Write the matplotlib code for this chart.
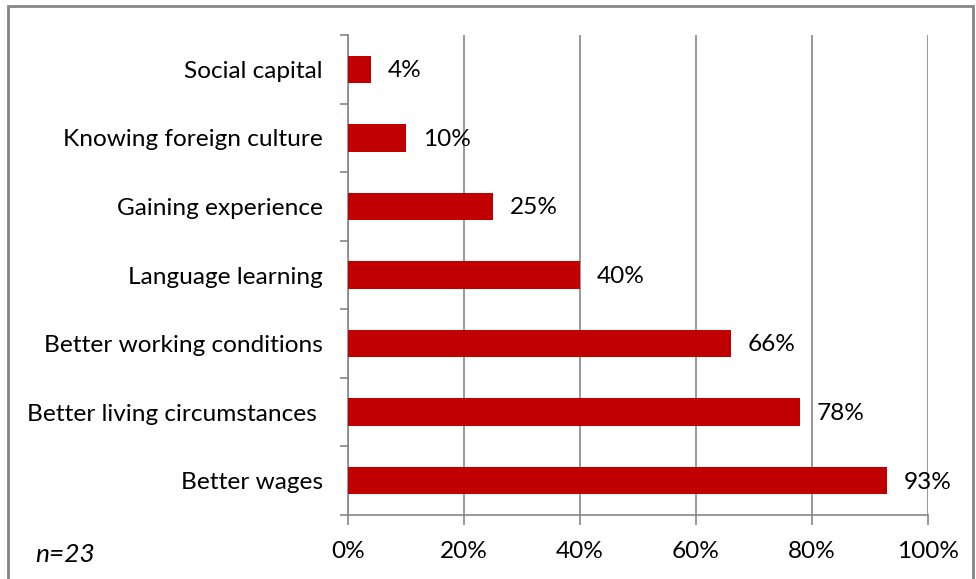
#!/usr/bin/env python3
"""Horizontal bar chart: motivations for working abroad."""

import matplotlib.pyplot as plt
import numpy as np
from matplotlib.patches import Rectangle
from matplotlib.ticker import FixedLocator, PercentFormatter

CATEGORIES = [
    "Better wages",
    "Better living circumstances ",
    "Better working conditions",
    "Language learning",
    "Gaining experience",
    "Knowing foreign culture",
    "Social capital",
]
VALUES = [93, 78, 66, 40, 25, 10, 4]
X_TICKS = [0, 20, 40, 60, 80, 100]
NOTE = "n=23"

BAR_COLOR = "#C00000"
AXIS_COLOR = "#868686"

plt.rcParams.update({"font.family": ["Lato", "DejaVu Sans"], "font.size": 17.6})

fig = plt.figure(figsize=(9.76, 5.79), dpi=100)
fig.patch.set_facecolor("white")
W, H = 976, 579
ax = fig.add_axes([348 / W, 1 - 515 / H, (928 - 348) / W, (515 - 35) / H])

y = np.arange(len(CATEGORIES))
ax.barh(y, VALUES, height=0.4, color=BAR_COLOR, zorder=3)
for yi, v in zip(y, VALUES):
    ax.annotate(f"{v}%", (v, yi), xytext=(12, -1), textcoords="offset points",
                ha="left", va="center", fontsize=17.6)

ax.set_xlim(0, 100)
ax.set_ylim(-0.5, len(CATEGORIES) - 0.5)
ax.set_xticks(X_TICKS)
ax.xaxis.set_major_formatter(PercentFormatter(decimals=0))
ax.set_yticks(y)
ax.set_yticklabels(CATEGORIES)
ax.yaxis.set_minor_locator(FixedLocator(np.arange(-0.5, len(CATEGORIES), 1.0)))
ax.tick_params(axis="y", which="major", length=0, pad=18)
ax.tick_params(axis="y", which="minor", length=6, color=AXIS_COLOR, width=1.2)
ax.tick_params(axis="x", length=7, color=AXIS_COLOR, width=1.2, pad=12)

ax.grid(axis="x", color=AXIS_COLOR, linewidth=1.2, zorder=0)
for side in ("top", "right"):
    ax.spines[side].set_visible(False)
for side in ("left", "bottom"):
    ax.spines[side].set_color(AXIS_COLOR)
    ax.spines[side].set_linewidth(1.2)

fig.text(35 / W, 1 - 555 / H, NOTE, style="italic", fontsize=19, va="center", ha="left")

fig.patches.append(Rectangle((8 / W, -0.05), (973 - 8) / W, 1 - 6 / H + 0.05,
                             transform=fig.transFigure, fill=False,
                             edgecolor=AXIS_COLOR, linewidth=2))

fig.savefig("out.png", dpi=100, facecolor="white")
